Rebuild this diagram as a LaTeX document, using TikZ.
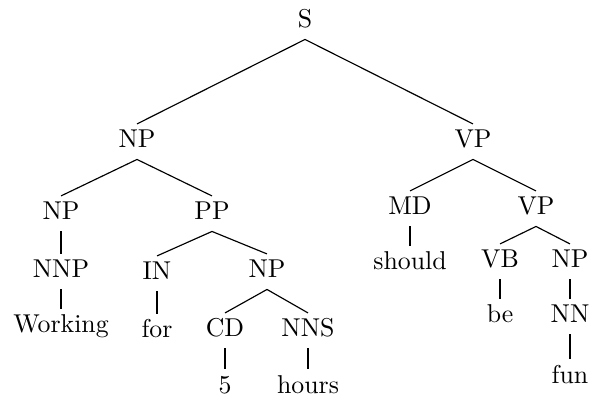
\documentclass[tikz,border=0pt]{standalone}
\begin{document}
\begin{tikzpicture}[x=0.3876pt,y=-0.3876pt,
  lab/.style={anchor=base,inner xsep=0pt,inner ysep=2.3pt,text height=6.83pt,text depth=1.94pt},
  edge/.style={line width=0.45pt}]
\useasboundingbox (0,0) rectangle (592,397);
\node[lab] (s) at (305,28) {S};
\node[lab] (np1) at (137,148) {NP};
\node[lab] (vp1) at (473,148) {VP};
\node[lab] (np2) at (61,220) {NP};
\node[lab] (pp) at (212,220) {PP};
\node[lab] (md) at (410,215) {MD};
\node[lab] (vp2) at (536,215) {VP};
\node[lab] (nnp) at (61,278) {NNP};
\node[lab] (in) at (157,280) {IN};
\node[lab] (np3) at (267,278) {NP};
\node[lab] (should) at (410,270) {should};
\node[lab] (vb) at (500,268) {VB};
\node[lab] (np4) at (570,268) {NP};
\node[lab] (working) at (61,333) {Working};
\node[lab] (for) at (157,338) {for};
\node[lab] (cd) at (225,337) {CD};
\node[lab] (nns) at (308,337) {NNS};
\node[lab] (be) at (500,323) {be};
\node[lab] (nn) at (570,323) {NN};
\node[lab] (five) at (225,393) {5};
\node[lab] (hours) at (308,393) {hours};
\node[lab] (fun) at (570,383) {fun};
\draw[edge] (s.south) -- (np1.north);
\draw[edge] (s.south) -- (vp1.north);
\draw[edge] (np1.south) -- (np2.north);
\draw[edge] (np1.south) -- (pp.north);
\draw[edge] (vp1.south) -- (md.north);
\draw[edge] (vp1.south) -- (vp2.north);
\draw[edge] (np2.south) -- (nnp.north);
\draw[edge] (nnp.south) -- (working.north);
\draw[edge] (pp.south) -- (in.north);
\draw[edge] (pp.south) -- (np3.north);
\draw[edge] (in.south) -- (for.north);
\draw[edge] (np3.south) -- (cd.north);
\draw[edge] (np3.south) -- (nns.north);
\draw[edge] (cd.south) -- (five.north);
\draw[edge] (nns.south) -- (hours.north);
\draw[edge] (md.south) -- (should.north);
\draw[edge] (vp2.south) -- (vb.north);
\draw[edge] (vp2.south) -- (np4.north);
\draw[edge] (vb.south) -- (be.north);
\draw[edge] (np4.south) -- (nn.north);
\draw[edge] (nn.south) -- (fun.north);
\end{tikzpicture}
\end{document}
